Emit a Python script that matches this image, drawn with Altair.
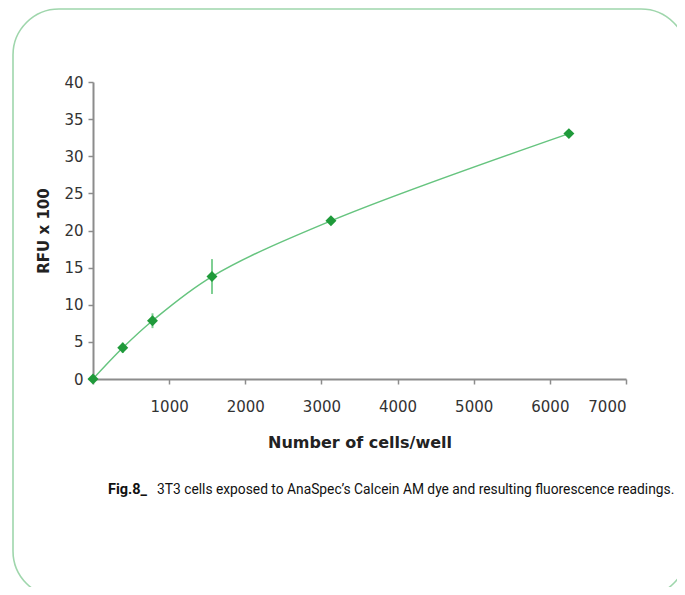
import altair as alt
import pandas as pd

# ---- data ----
cells = [0, 390.625, 781.25, 1562.5, 3125, 6250]
rfu = [0.0, 4.2, 7.85, 13.8, 21.3, 33.05]
err = [0.0, 0.7, 1.0, 2.35, 0.3, 0.3]

x_ticks = [0, 1000, 2000, 3000, 4000, 5000, 6000, 7000]
y_ticks = [0, 5, 10, 15, 20, 25, 30, 35, 40]

x_title = "Number of cells/well"
y_title = "RFU x 100"
caption_bold = "Fig.8_"
caption_text = "3T3 cells exposed to AnaSpec\u2019s Calcein AM dye and resulting fluorescence readings."

df = pd.DataFrame({
    "cells": cells,
    "rfu": rfu,
    "lo": [v - e for v, e in zip(rfu, err)],
    "hi": [v + e for v, e in zip(rfu, err)],
})
one = pd.DataFrame({"k": [0]})

W, H = 533, 297

xs = alt.Scale(domain=[0, 7000], nice=False)
ys = alt.Scale(domain=[0, 40], nice=False)

x_axis = alt.Axis(values=x_ticks, format="d", title=x_title,
                  labelExpr="datum.value == 0 ? '' : datum.label",
                  labelPadding=15, titlePadding=20, tickSize=5,
                  titleFontSize=16)
y_axis = alt.Axis(values=y_ticks, title=y_title, labelPadding=5,
                  titlePadding=12, tickSize=5)

base = alt.Chart(df)

frame = alt.Chart(one).mark_rect(
    fillOpacity=0, stroke="#9fd6ac", strokeWidth=1.6, cornerRadius=46
).encode(
    x=alt.value(-80), x2=alt.value(594), y=alt.value(-73), y2=alt.value(515)
)

errbars = base.mark_rule(color="#7fcf93", strokeWidth=2).encode(
    x=alt.X("cells:Q", scale=xs, axis=x_axis),
    y=alt.Y("lo:Q", scale=ys, axis=y_axis),
    y2="hi:Q",
)

line = base.mark_line(color="#66c47f", strokeWidth=1.5,
                      interpolate="catmull-rom").encode(
    x=alt.X("cells:Q", scale=xs, axis=x_axis),
    y=alt.Y("rfu:Q", scale=ys, axis=y_axis),
)

points = base.mark_point(shape="diamond", filled=True, color="#1f9a3a",
                         size=120, opacity=1).encode(
    x=alt.X("cells:Q", scale=xs, axis=x_axis),
    y=alt.Y("rfu:Q", scale=ys, axis=y_axis),
)

cap1 = alt.Chart(one).mark_text(
    font="Roboto", fontSize=14.5, fontWeight="bold", align="left",
    baseline="alphabetic", color="#111"
).encode(x=alt.value(15), y=alt.value(412), text=alt.value(caption_bold))

cap2 = alt.Chart(one).mark_text(
    font="Roboto", fontSize=13.8, align="left",
    baseline="alphabetic", color="#111"
).encode(x=alt.value(64), y=alt.value(412), text=alt.value(caption_text))

chart = alt.layer(frame, errbars, line, points, cap1, cap2).properties(
    width=W, height=H,
    autosize=alt.AutoSizeParams(type="none"),
    padding={"left": 85, "top": 74, "right": 51, "bottom": 208},
).configure_view(stroke=None).configure_axis(
    grid=False,
    domainColor="#8c8c8c", domainWidth=2,
    tickColor="#8c8c8c", tickWidth=1.5,
    labelColor="#333333", labelFont="DejaVu Sans", labelFontSize=15,
    titleColor="#222222", titleFont="DejaVu Sans", titleFontSize=15,
    titleFontWeight="bold",
)

chart.save("out.html", embed_options={"renderer": "svg", "actions": False})
